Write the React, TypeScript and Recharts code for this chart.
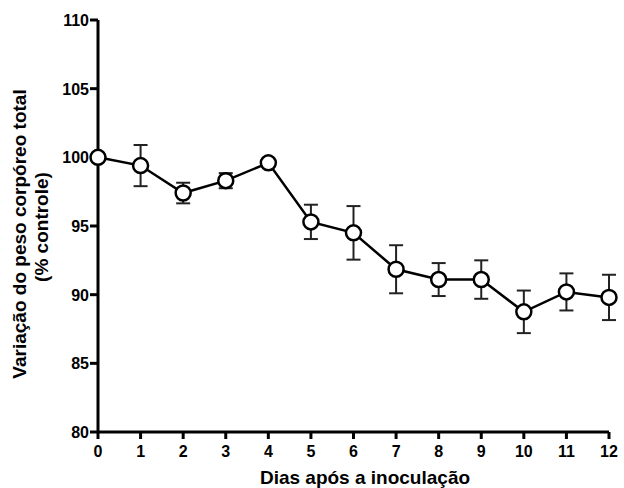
import { LineChart, Line, XAxis, YAxis, ErrorBar } from 'recharts';

// dias após a inoculação
const days = [0, 1, 2, 3, 4, 5, 6, 7, 8, 9, 10, 11, 12];
// peso corpóreo (% controle), média
const meanWeight = [100, 99.4, 97.4, 98.3, 99.6, 95.3, 94.5, 91.85, 91.1, 91.1, 88.75, 90.2, 89.8];
// erro padrão
const semWeight = [0.3, 1.5, 0.75, 0.55, 0.3, 1.25, 1.95, 1.75, 1.2, 1.4, 1.55, 1.35, 1.65];

const xTicks = [0, 1, 2, 3, 4, 5, 6, 7, 8, 9, 10, 11, 12];
const yTicks = [80, 85, 90, 95, 100, 105, 110];

const FONT = '"Liberation Sans", Arial, Helvetica, sans-serif';

const YTitle = () => (
    <g fontFamily={FONT} fontWeight="bold" fontSize={19} fill="#000">
        <text transform="translate(26,234) rotate(-90)" textAnchor="middle">
            Variação do peso corpóreo total
        </text>
        <text transform="translate(48,227) rotate(-90)" textAnchor="middle">
            (% controle)
        </text>
    </g>
);

const XTitle = () => (
    <text x={365} y={484} textAnchor="middle" fontFamily={FONT} fontWeight="bold" fontSize={19} fill="#000">
        Dias após a inoculação
    </text>
);

// tick labels in bold, like the original
const XTick = (props: any) => {
    const { x, y, payload } = props;
    return (
        <text x={x} y={y + 18} textAnchor="middle" fontFamily={FONT} fontWeight="bold" fontSize={16} fill="#000">
            {payload.value}
        </text>
    );
};

const YTick = (props: any) => {
    const { x, y, payload } = props;
    return (
        <text x={x - 1} y={y + 6} textAnchor="end" fontFamily={FONT} fontWeight="bold" fontSize={16} fill="#000">
            {payload.value}
        </text>
    );
};

export default function App() {
    const chartData = days.map((d, i) => ({
        day: d,
        weight: meanWeight[i],
        sem: semWeight[i],
    }));

    const axisStyle = { stroke: '#000', strokeWidth: 3 };

    return (
        <div style={{ position: 'absolute', left: 0, top: 0, width: 624, height: 488, background: '#fff' }}>
            <LineChart
                width={624}
                height={488}
                data={chartData}
                margin={{ top: 20, right: 15, left: 0, bottom: 0 }}
            >
                <XAxis
                    dataKey="day"
                    type="number"
                    domain={[0, 12]}
                    ticks={xTicks}
                    interval={0}
                    height={56}
                    axisLine={axisStyle}
                    tickLine={axisStyle}
                    tickSize={7}
                    tickMargin={0}
                    tick={<XTick />}
                    label={{ content: () => <XTitle /> }}
                />
                <YAxis
                    type="number"
                    domain={[80, 110]}
                    ticks={yTicks}
                    interval={0}
                    width={98}
                    axisLine={axisStyle}
                    tickLine={axisStyle}
                    tickSize={8}
                    tickMargin={0}
                    tick={<YTick />}
                    label={{ content: () => <YTitle /> }}
                />
                <Line
                    type="linear"
                    dataKey="weight"
                    stroke="#000"
                    strokeWidth={2.5}
                    dot={{ r: 7.5, fill: '#fff', stroke: '#000', strokeWidth: 2.5 }}
                    activeDot={false}
                    isAnimationActive={false}
                >
                    <ErrorBar dataKey="sem" direction="y" width={7} stroke="#222" strokeWidth={2} />
                </Line>
            </LineChart>
        </div>
    );
}
